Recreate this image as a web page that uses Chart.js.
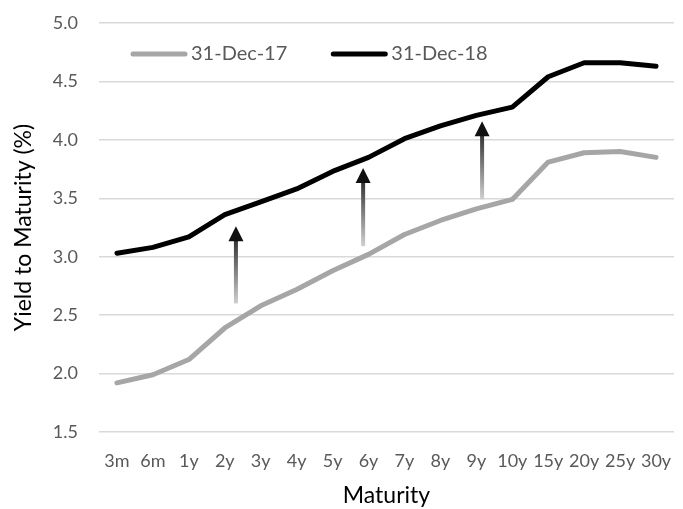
<!DOCTYPE html>
<html>
<head>
<meta charset="utf-8">
<script src="https://cdn.jsdelivr.net/npm/chart.js@4"></script>
<style>
  html, body { margin: 0; padding: 0; background: #fff; }
  #wrap { width: 683px; height: 509px; }
</style>
</head>
<body>
<div id="wrap"><canvas id="curve"></canvas></div>
<script>
const maturities = ['3m', '6m', '1y', '2y', '3y', '4y', '5y', '6y', '7y', '8y', '9y', '10y', '15y', '20y', '25y', '30y'];
const yield2017 = [1.92, 1.99, 2.12, 2.39, 2.58, 2.72, 2.88, 3.02, 3.19, 3.31, 3.41, 3.49, 3.81, 3.89, 3.90, 3.85];
const yield2018 = [3.03, 3.08, 3.17, 3.36, 3.47, 3.58, 3.73, 3.85, 4.01, 4.12, 4.21, 4.28, 4.54, 4.66, 4.66, 4.63];
const yTicks = [1.5, 2.0, 2.5, 3.0, 3.5, 4.0, 4.5, 5.0];

// shift arrows (x as category position, from/to as yield)
const arrowPos = [3.31, 6.85, 10.16];
const arrowFrom = [2.60, 3.09, 3.49];
const arrowTo = [3.26, 3.76, 4.16];

const font = 'Lato, "Open Sans", sans-serif';

const arrowPlugin = {
    id: 'shiftArrows',
    afterDatasetsDraw(chart) {
        const ctx = chart.ctx;
        const xs = chart.scales.x, ys = chart.scales.y;
        arrowPos.forEach((p, i) => {
            const x = xs.getPixelForValue(p);
            const y0 = ys.getPixelForValue(arrowFrom[i]);
            const y1 = ys.getPixelForValue(arrowTo[i]);
            const head = 15;
            const grad = ctx.createLinearGradient(0, y0, 0, y1);
            grad.addColorStop(0, '#d0d0d0');
            grad.addColorStop(1, '#111111');
            ctx.save();
            ctx.strokeStyle = grad;
            ctx.lineWidth = 4;
            ctx.beginPath();
            ctx.moveTo(x, y0);
            ctx.lineTo(x, y1 + head - 1);
            ctx.stroke();
            ctx.fillStyle = '#111111';
            ctx.beginPath();
            ctx.moveTo(x, y1);
            ctx.lineTo(x - 7.5, y1 + head);
            ctx.lineTo(x + 7.5, y1 + head);
            ctx.closePath();
            ctx.fill();
            ctx.restore();
        });
    }
};

// legend sits inside the plot area, like the Excel original
const lineLegend = {
    id: 'lineLegend',
    afterDraw(chart) {
        const ctx = chart.ctx;
        const area = chart.chartArea;
        let x = area.left + 34;
        const y = area.top + 31;
        ctx.save();
        ctx.font = '20px ' + font;
        ctx.textBaseline = 'middle';
        ctx.textAlign = 'left';
        chart.data.datasets.forEach(ds => {
            ctx.strokeStyle = ds.borderColor;
            ctx.lineWidth = 5;
            ctx.lineCap = 'round';
            ctx.beginPath();
            ctx.moveTo(x, y);
            ctx.lineTo(x + 52, y);
            ctx.stroke();
            ctx.fillStyle = '#595959';
            ctx.fillText(ds.label, x + 58, y);
            x += 58 + ctx.measureText(ds.label).width + 46;
        });
        ctx.restore();
    }
};

new Chart(document.getElementById('curve'), {
    type: 'line',
    data: {
        labels: maturities,
        datasets: [
            {
                label: '31-Dec-17',
                data: yield2017,
                borderColor: '#a6a6a6',
                backgroundColor: '#a6a6a6',
                borderWidth: 5,
                pointRadius: 0,
                borderJoinStyle: 'round',
                borderCapStyle: 'round',
                tension: 0
            },
            {
                label: '31-Dec-18',
                data: yield2018,
                borderColor: '#000000',
                backgroundColor: '#000000',
                borderWidth: 5,
                pointRadius: 0,
                borderJoinStyle: 'round',
                borderCapStyle: 'round',
                tension: 0
            }
        ]
    },
    options: {
        responsive: true,
        maintainAspectRatio: false,
        animation: false,
        layout: { padding: { top: 23, right: 9, left: 0, bottom: 0 } },
        plugins: {
            tooltip: { enabled: false },
            legend: { display: false }
        },
        scales: {
            x: {
                offset: true,
                grid: { display: false, drawTicks: false },
                border: { display: false },
                ticks: {
                    color: '#595959',
                    padding: 18,
                    maxRotation: 0,
                    autoSkip: false,
                    font: { family: font, size: 18 }
                },
                title: {
                    display: true,
                    text: 'Maturity',
                    color: '#000000',
                    padding: { top: 4, bottom: 0 },
                    font: { family: font, size: 23 }
                },
                afterFit(scale) {
                    scale.height = 77;
                    scale.paddingLeft = 0;
                    scale.paddingRight = 0;
                }
            },
            y: {
                min: 1.5,
                max: 5.0,
                afterBuildTicks(scale) { scale.ticks = yTicks.map(v => ({ value: v })); },
                grid: { color: '#d9d9d9', lineWidth: 1.5, drawTicks: false },
                border: { display: false },
                ticks: {
                    color: '#595959',
                    padding: 21,
                    font: { family: font, size: 18 },
                    callback: v => Number(v).toFixed(1)
                },
                title: {
                    display: true,
                    text: 'Yield to Maturity (%)',
                    color: '#000000',
                    padding: { top: 10, bottom: 0 },
                    font: { family: font, size: 23 }
                },
                afterFit(scale) {
                    scale.width = 99;
                    scale.paddingTop = 0;
                    scale.paddingBottom = 0;
                }
            }
        }
    },
    plugins: [arrowPlugin, lineLegend]
});
</script>
</body>
</html>
